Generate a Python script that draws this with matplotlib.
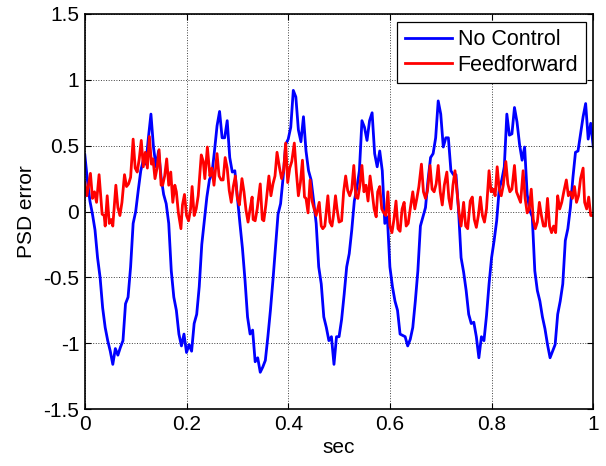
import numpy as np
import matplotlib
matplotlib.use('Agg')
import matplotlib.pyplot as plt

plt.rcParams['font.family'] = ['Liberation Sans', 'DejaVu Sans']
plt.rcParams['axes.unicode_minus'] = False

# No Control: sampled every 5 ms from 0 to 1 s
blue_t = np.linspace(0.0, 1.0, 201)
blue_v = [
    0.43, 0.24, 0.08, -0.02, -0.14, -0.35, -0.50, -0.73, -0.88, -0.98,
    -1.06, -1.16, -1.04, -1.09, -1.03, -0.98, -0.70, -0.65, -0.42, -0.09,
    0.00, 0.16, 0.31, 0.39, 0.36, 0.56, 0.74, 0.49, 0.34, 0.46,
    0.26, 0.13, 0.06, -0.09, -0.45, -0.65, -0.75, -0.93, -1.02, -0.93,
    -1.07, -1.01, -1.06, -0.85, -0.78, -0.57, -0.25, -0.07, 0.11, 0.24,
    0.29,
    0.46, 0.65, 0.76, 0.56, 0.56, 0.69, 0.41, 0.30, 0.31, 0.11,
    -0.09, -0.28, -0.52, -0.80, -0.93, -0.90, -1.14, -1.11, -1.22, -1.18,
    -1.13, -0.95, -0.75, -0.52, -0.27, -0.02, 0.06, 0.26, 0.51, 0.55,
    0.64, 0.92, 0.87, 0.62, 0.53, 0.72, 0.46, 0.31, 0.24, 0.08,
    -0.09, -0.42, -0.55, -0.80, -0.88, -0.98, -0.95, -1.16, -0.95,
    -0.95, -0.82, -0.63, -0.42, -0.32, -0.14, 0.08, 0.18, 0.31, 0.69,
    0.64, 0.54, 0.69, 0.75, 0.44, 0.34, 0.46, 0.31, -0.09, -0.04,
    -0.42, -0.57, -0.68, -0.75, -0.93, -0.94, -0.95, -1.02, -0.97, -0.88,
    -0.68, -0.45, -0.11, -0.04, 0.03, 0.24, 0.41, 0.44, 0.56, 0.84,
    0.74, 0.49, 0.56, 0.56, 0.31, 0.28, 0.28, 0.01, -0.35, -0.46,
    -0.60, -0.78, -0.85, -0.84, -0.95, -1.11, -0.95, -0.98, -0.79, -0.55,
    -0.35, -0.22, -0.07, 0.17, 0.24, 0.34, 0.74, 0.58, 0.59, 0.79,
    0.68, 0.51, 0.39, 0.49, 0.13, 0.01, -0.04, -0.45, -0.60, -0.68,
    -0.80, -0.89, -1.01, -1.11, -1.06, -1.01, -0.78, -0.68, -0.55, -0.22,
    -0.13, 0.03, 0.26, 0.45, 0.46, 0.59, 0.72, 0.82, 0.55, 0.67,
    0.49,
]

# Feedforward: turning points
red_t = [
    0.000, 0.004, 0.011, 0.015, 0.019, 0.023, 0.028, 0.034, 0.038, 0.040,
    0.044, 0.048, 0.052, 0.055, 0.061, 0.065, 0.069, 0.073, 0.078, 0.082,
    0.086, 0.090, 0.095, 0.099, 0.103, 0.107, 0.111, 0.115, 0.119, 0.123,
    0.127, 0.131, 0.134, 0.138, 0.142, 0.146, 0.150, 0.153, 0.157, 0.161,
    0.165, 0.169, 0.173, 0.177, 0.180, 0.184, 0.189, 0.192, 0.196, 0.200,
    0.204, 0.208, 0.211, 0.215, 0.219, 0.223, 0.229, 0.233, 0.236, 0.241,
    0.246, 0.250, 0.254, 0.260, 0.264, 0.268, 0.272, 0.276, 0.280, 0.284,
    0.288, 0.292, 0.296, 0.300, 0.304, 0.309, 0.313, 0.317, 0.321, 0.325,
    0.329, 0.331, 0.335, 0.339, 0.345, 0.349, 0.352, 0.356, 0.362, 0.366,
    0.370, 0.374, 0.378, 0.383, 0.387, 0.391, 0.395, 0.399, 0.403, 0.407,
    0.412, 0.416, 0.420, 0.424, 0.428, 0.432, 0.435, 0.439, 0.443, 0.447,
    0.451, 0.455, 0.461, 0.465, 0.468, 0.472, 0.478, 0.482, 0.486, 0.489,
    0.493,
    0.496, 0.500, 0.505, 0.509, 0.513, 0.517, 0.521, 0.525, 0.529, 0.533,
    0.537, 0.541, 0.545, 0.549, 0.553, 0.557, 0.561, 0.565, 0.569, 0.573,
    0.576, 0.580, 0.584, 0.588, 0.592, 0.596, 0.600, 0.604, 0.608, 0.612,
    0.616, 0.620, 0.624, 0.628, 0.632, 0.636, 0.640, 0.645, 0.649, 0.653,
    0.657, 0.662, 0.666, 0.670, 0.674, 0.679, 0.683, 0.687, 0.691, 0.695,
    0.699, 0.703, 0.707, 0.712, 0.716, 0.720, 0.724, 0.728, 0.732, 0.736,
    0.740,
    0.745, 0.749, 0.753, 0.758, 0.762, 0.766, 0.770, 0.774, 0.778, 0.782,
    0.786, 0.790, 0.795, 0.799, 0.803, 0.807, 0.811, 0.815, 0.819, 0.823,
    0.828, 0.832, 0.836, 0.840, 0.845, 0.849, 0.853, 0.857, 0.862, 0.866,
    0.870, 0.874, 0.878, 0.882, 0.886, 0.890, 0.894, 0.898, 0.902, 0.906,
    0.910, 0.914, 0.918, 0.922, 0.926, 0.930, 0.934, 0.938, 0.942, 0.947,
    0.951, 0.955, 0.959, 0.963, 0.967, 0.971, 0.975, 0.980, 0.983, 0.987,
    0.991, 0.995, 1.000,
]
red_v = [
    0.22, 0.12, 0.29, 0.10, 0.15, 0.07, 0.28, -0.02, -0.03, -0.11,
    0.12, -0.09, -0.06, -0.11, 0.20, 0.03, -0.03, 0.07, 0.28, 0.19,
    0.21, 0.26, 0.55, 0.33, 0.30, 0.40, 0.54, 0.34, 0.45, 0.33,
    0.57, 0.36, 0.40, 0.25, 0.33, 0.47, 0.20, 0.20, 0.27, 0.40,
    0.20, 0.30, 0.07, 0.20, 0.15, -0.01, -0.13, 0.05, 0.13, -0.03,
    -0.07, 0.02, 0.19, -0.03, 0.02, 0.12, 0.43, 0.38, 0.25, 0.49,
    0.27, 0.33, 0.20, 0.44, 0.27, 0.24, 0.24, 0.41, 0.33, 0.16,
    0.07, 0.19, 0.27, 0.10, 0.05, 0.25, 0.15, 0.01, -0.08, 0.02,
    0.11, -0.06, -0.07, 0.02, 0.21, -0.06, -0.07, 0.05, 0.27, 0.12,
    0.21, 0.27, 0.45, 0.33, 0.25, 0.31, 0.52, 0.22, 0.33, 0.38,
    0.52, 0.30, 0.12, 0.22, 0.39, 0.11, 0.10, -0.01, 0.24, 0.08,
    0.02, -0.03, 0.07, -0.11, -0.13, -0.11, 0.12, -0.08, -0.11, -0.03,
    0.12,
    0.02, -0.08, -0.07, 0.15, 0.27, 0.16, 0.12, 0.17, 0.35, 0.11,
    0.10, 0.20, 0.35, 0.15, 0.20, 0.08, 0.27, 0.15, 0.02, -0.04,
    0.15, 0.19, 0.02, -0.01, -0.03, 0.15, -0.11, -0.16, -0.06, 0.08,
    -0.13, -0.15, 0.02, 0.07, -0.11, -0.09, 0.02, 0.15, 0.02, 0.10,
    0.19, 0.36, 0.15, 0.10, 0.16, 0.35, 0.17, 0.15, 0.21, 0.35,
    0.15, 0.05, 0.20, 0.30, 0.10, 0.02, 0.20, 0.31, 0.15, -0.01,
    -0.11,
    0.07, -0.11, -0.13, 0.08, 0.11, -0.06, -0.12, -0.03, 0.11, -0.03,
    -0.08, 0.02, 0.31, 0.15, 0.17, 0.12, 0.34, 0.17, 0.12, 0.20,
    0.38, 0.21, 0.15, 0.17, 0.35, 0.15, 0.11, 0.07, 0.31, 0.10,
    -0.01, 0.02, 0.17, -0.06, -0.13, -0.08, 0.07, -0.03, -0.11, -0.11,
    0.10, -0.11, -0.16, -0.11, -0.16, 0.12, 0.02, 0.07, 0.15, 0.24,
    0.12, 0.15, 0.10, 0.19, 0.07, 0.12, 0.25, 0.33, 0.07, 0.02,
    0.11, -0.03, -0.03,
]

x_ticks = [0, 0.2, 0.4, 0.6, 0.8, 1]
x_labels = ['0', '0.2', '0.4', '0.6', '0.8', '1']
y_ticks = [-1.5, -1, -0.5, 0, 0.5, 1, 1.5]
y_labels = ['-1.5', '-1', '-0.5', '0', '0.5', '1', '1.5']

fig = plt.figure(figsize=(6.06, 4.66), dpi=100)
ax = fig.add_axes([0.140, 0.122, 0.839, 0.848])

ax.plot(blue_t, blue_v, color='#0000ff', lw=2.0, label='No Control')
ax.plot(red_t, red_v, color='#ff0000', lw=2.0, label='Feedforward')

ax.set_xlim(0, 1)
ax.set_ylim(-1.5, 1.5)
ax.set_xticks(x_ticks)
ax.set_xticklabels(x_labels)
ax.set_yticks(y_ticks)
ax.set_yticklabels(y_labels)
ax.tick_params(direction='in', length=4, width=0.8, labelsize=15,
               top=True, right=True, pad=4)
ax.grid(True, linestyle=':', color='#404040', linewidth=0.7)
for s in ax.spines.values():
    s.set_linewidth(1.2)

ax.set_xlabel('sec', fontsize=15, labelpad=3)
ax.set_ylabel('PSD error', fontsize=15, labelpad=5)

leg = ax.legend(loc='upper right', fontsize=15.5, fancybox=False,
                edgecolor='black', framealpha=1, handlelength=2.2,
                borderaxespad=0.35, borderpad=0.35, labelspacing=0.22,
                handletextpad=0.25)
leg.get_frame().set_linewidth(0.9)

fig.savefig('out.png', dpi=100)
